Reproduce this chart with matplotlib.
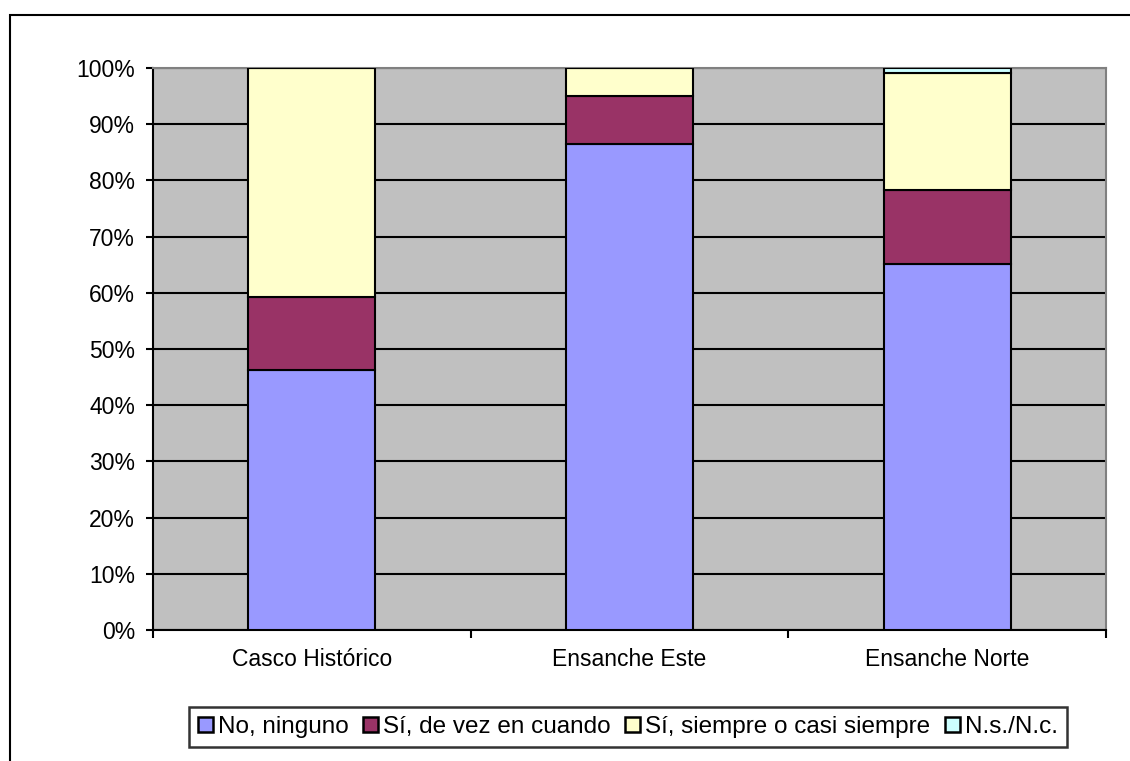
import matplotlib.pyplot as plt
import numpy as np
from matplotlib.patches import Rectangle

plt.rcParams['font.family'] = ['Liberation Sans', 'DejaVu Sans']

categories = ['Casco Histórico', 'Ensanche Este', 'Ensanche Norte']
series_names = ['No, ninguno', 'Sí, de vez en cuando', 'Sí, siempre o casi siempre', 'N.s./N.c.']
no_ninguno = [46.2, 86.5, 65.1]
de_vez = [13.0, 8.5, 13.2]
siempre = [40.8, 5.0, 20.8]
nsnc = [0.0, 0.0, 0.9]
colors = ['#9999FF', '#993366', '#FFFFCC', '#CCFFFF']
yticks = np.arange(0, 101, 10)

fig = plt.figure(figsize=(11.3, 7.61), dpi=100)
# outer chart frame (runs off the right/bottom edges like the source)
fig.patches.append(Rectangle((10 / 1130, -0.1), 1.2, 1 - 15 / 761 + 0.1,
                             transform=fig.transFigure, fill=False,
                             edgecolor='black', linewidth=1.5))

ax = fig.add_axes([153 / 1130, 1 - 630 / 761, (1106 - 153) / 1130, (630 - 68) / 761])
ax.set_facecolor('#C0C0C0')

x = np.arange(len(categories))
bottom = np.zeros(len(categories))
for name, vals, c in zip(series_names, [no_ninguno, de_vez, siempre, nsnc], colors):
    ax.bar(x, vals, 0.4, bottom=bottom, color=c, edgecolor='black',
           linewidth=1.5, label=name, zorder=3)
    bottom += np.array(vals)

ax.set_xlim(-0.5, 2.5)
ax.set_ylim(0, 100)
ax.set_yticks(yticks)
ax.set_yticklabels(['{}%'.format(v) for v in yticks], fontsize=16.5)
ax.yaxis.grid(True, color='black', linewidth=1.5, zorder=1)
ax.set_axisbelow(True)

ax.set_xticks(x)
ax.set_xticklabels(categories, fontsize=16.5)
ax.tick_params(axis='x', length=0, pad=13)
ax.set_xticks([-0.5, 0.5, 1.5, 2.5], minor=True)
ax.tick_params(axis='x', which='minor', length=6, width=1.5, direction='out')
ax.tick_params(axis='y', length=5, width=1.5, direction='out', pad=8)

for s in ['left', 'bottom']:
    ax.spines[s].set_linewidth(1.5)
    ax.spines[s].set_color('black')
for s in ['top', 'right']:
    ax.spines[s].set_linewidth(1.5)
    ax.spines[s].set_color('#808080')

leg = fig.legend(loc='center', bbox_to_anchor=(628 / 1130, 1 - 727 / 761), ncol=4,
                 fontsize=17.5, frameon=True, fancybox=False, edgecolor='black',
                 handlelength=0.6, handleheight=0.6, handletextpad=0.22,
                 columnspacing=0.6, borderpad=0.38, borderaxespad=0)
leg.get_frame().set_linewidth(1.8)
for h in leg.legend_handles:
    h.set_linewidth(1.8)

fig.savefig('out.png', dpi=100)
